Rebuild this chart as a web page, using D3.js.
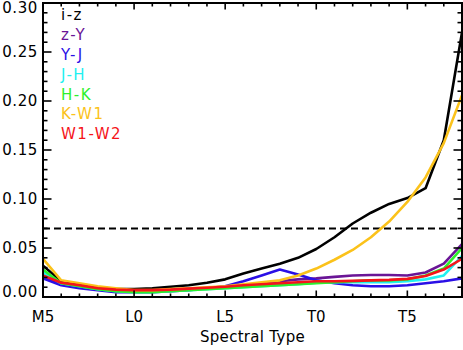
<!DOCTYPE html>
<html>
<head>
<meta charset="utf-8">
<script src="https://cdn.jsdelivr.net/npm/d3@7"></script>
<style>
  body { margin: 0; background: #fff; }
  svg { display: block; }
  text { font-family: "DejaVu Sans", sans-serif; }
</style>
</head>
<body>
<svg id="chart"></svg>
<script>
// spectral subtypes on the x axis, M5 .. T8
const types = ["M5","M6","M7","M8","M9","L0","L1","L2","L3","L4","L5","L6","L7","L8","L9",
               "T0","T1","T2","T3","T4","T5","T6","T7","T8"];
const xTickLabels = ["M5","L0","L5","T0","T5"];
const yTickValues = [0, 0.05, 0.10, 0.15, 0.20, 0.25, 0.30];
const cutLevel = 0.07;

const seriesNames  = ["i-z","z-Y","Y-J","J-H","H-K","K-W1","W1-W2"];
const seriesColors = ["#000000","#6a1596","#2a0fe6","#22f0f0","#2df02d","#fbc21a","#f5141a"];

const iz   = [0.032,0.016,0.013,0.010,0.008,0.008,0.009,0.0105,0.012,0.0145,0.018,0.024,0.029,0.034,0.040,0.049,0.061,0.075,0.086,0.095,0.101,0.111,0.160,0.270];
const zY   = [0.021,0.014,0.011,0.008,0.006,0.006,0.006,0.007,0.008,0.009,0.010,0.012,0.014,0.016,0.018,0.019,0.0205,0.022,0.0225,0.0225,0.022,0.025,0.034,0.054];
const YJ   = [0.019,0.012,0.009,0.007,0.005,0.005,0.005,0.006,0.007,0.009,0.011,0.016,0.022,0.028,0.023,0.017,0.014,0.012,0.011,0.011,0.012,0.014,0.016,0.019];
const JH   = [0.025,0.014,0.011,0.008,0.006,0.005,0.005,0.006,0.007,0.008,0.009,0.010,0.011,0.012,0.013,0.0145,0.015,0.015,0.015,0.015,0.016,0.018,0.022,0.042];
const HK   = [0.028,0.014,0.011,0.008,0.006,0.005,0.005,0.006,0.007,0.008,0.009,0.010,0.011,0.012,0.013,0.014,0.015,0.016,0.017,0.017,0.018,0.022,0.029,0.050];
const KW1  = [0.039,0.017,0.014,0.011,0.009,0.007,0.007,0.008,0.009,0.010,0.011,0.013,0.015,0.017,0.022,0.029,0.038,0.048,0.061,0.077,0.097,0.122,0.157,0.206];
const W1W2 = [0.022,0.0145,0.012,0.009,0.0075,0.007,0.007,0.0075,0.0085,0.0095,0.0105,0.012,0.013,0.014,0.015,0.016,0.016,0.0165,0.017,0.0175,0.0185,0.0215,0.028,0.039];

const seriesValues = [iz, zY, YJ, JH, HK, KW1, W1W2];

const W = 463, H = 350;
const margin = { top: 3, right: 1, bottom: 53, left: 43 };

const svg = d3.select("#chart").attr("width", W).attr("height", H);

const x = d3.scalePoint().domain(types).range([margin.left, W - margin.right]);
const y = d3.scaleLinear().domain([0, 0.30]).range([H - margin.bottom, margin.top]);

const x0 = margin.left, x1 = W - margin.right;
const y0 = H - margin.bottom, y1 = margin.top;

// data lines, clipped to the plot box
svg.append("clipPath").attr("id", "plotclip")
  .append("rect").attr("x", x0).attr("y", y1).attr("width", x1 - x0).attr("height", y0 - y1);

const line = d3.line()
  .x((d, i) => x(types[i]))
  .y(d => y(d));

const lines = svg.append("g").attr("clip-path", "url(#plotclip)");

// dashed cut line
lines.append("line")
  .attr("x1", x0).attr("x2", x1)
  .attr("y1", y(cutLevel)).attr("y2", y(cutLevel))
  .attr("stroke", "#000").attr("stroke-width", 2)
  .attr("stroke-dasharray", "7,4");

lines.selectAll("path.series")
  .data(seriesValues)
  .enter().append("path")
  .attr("class", "series")
  .attr("d", d => line(d))
  .attr("fill", "none")
  .attr("stroke", (d, i) => seriesColors[i])
  .attr("stroke-width", 2.6)
  .attr("stroke-linejoin", "round");

// axes: IDL style box with inward ticks on all four sides
const axes = svg.append("g").attr("stroke", "#000").attr("stroke-width", 1.6);
const yMinor = d3.range(0, 0.3001, 0.01);
const yMajorLen = 8.5, yMinorLen = 4.5;
const xMajorLen = 6.5, xMinorLen = 3.5;

yMinor.forEach(v => {
  const major = yTickValues.some(t => Math.abs(t - v) < 1e-6);
  const len = major ? yMajorLen : yMinorLen;
  axes.append("line").attr("x1", x0).attr("x2", x0 + len).attr("y1", y(v)).attr("y2", y(v));
  axes.append("line").attr("x1", x1).attr("x2", x1 - len).attr("y1", y(v)).attr("y2", y(v));
});

types.forEach(t => {
  const len = xTickLabels.includes(t) ? xMajorLen : xMinorLen;
  axes.append("line").attr("x1", x(t)).attr("x2", x(t)).attr("y1", y0).attr("y2", y0 - len);
  axes.append("line").attr("x1", x(t)).attr("x2", x(t)).attr("y1", y1).attr("y2", y1 + len);
});

svg.append("rect")
  .attr("x", x0).attr("y", y1).attr("width", x1 - x0).attr("height", y0 - y1)
  .attr("fill", "none").attr("stroke", "#000").attr("stroke-width", 2);

// tick labels
svg.selectAll("text.ylab")
  .data(yTickValues)
  .enter().append("text")
  .attr("class", "ylab")
  .attr("x", x0 - 5)
  .attr("y", d => Math.min(Math.max(y(d), y1 + 5), y0 - 5))
  .attr("dy", "0.36em")
  .attr("text-anchor", "end")
  .style("font-size", "15px")
  .style("letter-spacing", "0.6px")
  .text(d => d3.format(".2f")(d));

svg.selectAll("text.xlab")
  .data(xTickLabels)
  .enter().append("text")
  .attr("class", "xlab")
  .attr("x", d => x(d))
  .attr("y", y0 + 25)
  .attr("text-anchor", "middle")
  .style("font-size", "15px")
  .text(d => d);

svg.append("text")
  .attr("x", (x0 + x1) / 2)
  .attr("y", y0 + 45)
  .attr("text-anchor", "middle")
  .style("font-size", "15px")
  .style("letter-spacing", "0.3px")
  .text("Spectral Type");

// legend
svg.selectAll("text.leg")
  .data(seriesNames)
  .enter().append("text")
  .attr("class", "leg")
  .attr("x", x0 + 18)
  .attr("y", (d, i) => 15 + i * 19.8)
  .attr("dy", "0.36em")
  .style("font-size", "15px")
  .style("letter-spacing", "1.5px")
  .attr("fill", (d, i) => seriesColors[i])
  .text(d => d);
</script>
</body>
</html>
